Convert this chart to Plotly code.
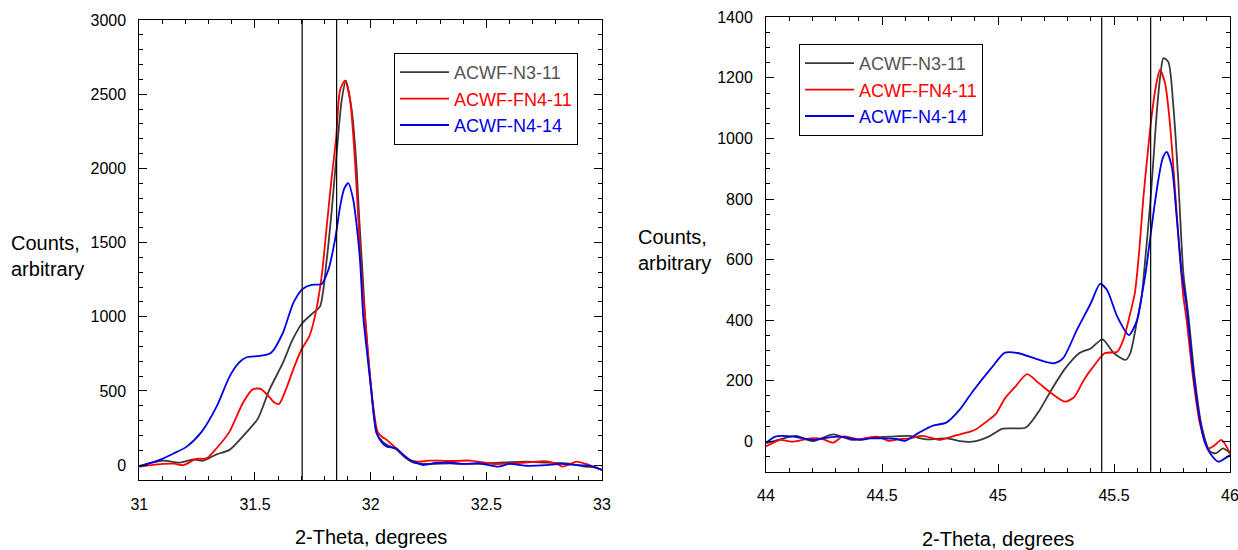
import plotly.graph_objects as go

# ---------------- data: left panel (2-theta 31-33) ----------------
L_n3_x = [31.00, 31.05, 31.104, 31.176, 31.233, 31.276, 31.334, 31.39, 31.447, 31.512, 31.562, 31.62, 31.662,
          31.704, 31.75, 31.781, 31.81, 31.832, 31.853, 31.875, 31.893, 31.918, 31.937, 31.951, 31.966,
          31.976, 32.0, 32.026, 32.05, 32.07, 32.11, 32.15, 32.185, 32.25, 32.34, 32.42, 32.5, 32.58,
          32.67, 32.76, 32.85, 32.93, 32.97, 33.0]
L_n3_y = [-5, 15, 30, 17, 39, 30, 73, 103, 193, 312, 507, 687, 844,
          956, 1024, 1068, 1383, 1720, 2102, 2461, 2591, 2394, 2057, 1652, 1270,
          1001, 560, 215, 160, 137, 108, 50, 17, 8, 13, 8, 12, 18,
          24, 17, 12, -10, -15, -32]

L_fn4_x = [31.00, 31.05, 31.104, 31.15, 31.19, 31.246, 31.29, 31.334, 31.39, 31.447, 31.49, 31.525, 31.56,
           31.585, 31.604, 31.633, 31.67, 31.70, 31.734, 31.759, 31.788, 31.81, 31.832, 31.85, 31.868,
           31.889, 31.911, 31.932, 31.947, 31.961, 31.976, 32.0, 32.03, 32.05, 32.07, 32.11, 32.17, 32.2,
           32.25, 32.3, 32.35, 32.43, 32.48, 32.53, 32.6, 32.67, 32.76, 32.8, 32.83, 32.86, 32.89, 32.93,
           32.97, 33.0]
L_fn4_y = [-10, 0, 8, 10, 0, 42, 46, 114, 226, 417, 511, 514, 462,
           420, 412, 507, 664, 776, 866, 1001, 1270, 1607, 1944, 2191, 2528,
           2591, 2461, 2057, 1652, 1270, 1001, 551, 226, 190, 170, 114, 35, 24,
           31, 30, 28, 31, 20, 8, 12, 17, 26, 12, -10, 5, 24, 8,
           -15, -32]

L_n414_x = [31.00, 31.05, 31.104, 31.15, 31.205, 31.27, 31.334, 31.39, 31.43, 31.464, 31.52, 31.57, 31.62,
            31.665, 31.704, 31.744, 31.788, 31.817, 31.846, 31.868, 31.885, 31.903, 31.925, 31.94, 31.954,
            31.968, 31.985, 32.0, 32.026, 32.05, 32.07, 32.11, 32.14, 32.17, 32.2, 32.228, 32.28, 32.33,
            32.4, 32.47, 32.55, 32.6, 32.67, 32.76, 32.82, 32.9, 32.95, 33.0]
L_n414_y = [-10, 15, 46, 80, 125, 226, 394, 597, 690, 727, 736, 758, 889,
            1091, 1185, 1215, 1221, 1315, 1518, 1742, 1860, 1900, 1787, 1607, 1383,
            1001, 750, 540, 215, 150, 125, 114, 70, 35, 15, 1, 15, 17,
            8, 13, -10, 8, -4, 0, 8, 0, -5, -32]

# ---------------- data: right panel (2-theta 44-46) ----------------
R_n3_x = [44.0, 44.06, 44.13, 44.2, 44.29, 44.37, 44.46, 44.54, 44.62, 44.69, 44.78, 44.83, 44.89, 44.96,
          45.02, 45.12, 45.18, 45.23, 45.29, 45.35, 45.40, 45.45, 45.50, 45.55, 45.57, 45.60, 45.619, 45.637,
          45.655, 45.67, 45.684, 45.70, 45.713, 45.734, 45.756, 45.777, 45.799, 45.82, 45.849, 45.878, 45.914,
          45.94, 45.97, 46.0]
R_n3_y = [-6, 7, 18, 1, 23, 5, 13, 16, 18, 7, 10, 2, -1, 16,
          42, 46, 104, 170, 241, 291, 307, 337, 291, 269, 291, 401, 478, 620,
          775, 930, 1083, 1210, 1265, 1253, 1105, 863, 555, 420, 203, 49, -34,
          -39, -23, -39]

R_fn4_x = [44.00, 44.03, 44.06, 44.12, 44.19, 44.247, 44.29, 44.33, 44.4, 44.48, 44.53, 44.57, 44.62, 44.675,
           44.75, 44.8, 44.88, 44.905, 44.96, 44.99, 45.03, 45.075, 45.125, 45.177, 45.23, 45.29, 45.33,
           45.37, 45.405, 45.46, 45.514, 45.54, 45.57, 45.59, 45.61, 45.626, 45.645, 45.662, 45.68, 45.698,
           45.72, 45.741, 45.763, 45.784, 45.799, 45.813, 45.842, 45.87, 45.906, 45.935, 45.963, 46.0]
R_fn4_y = [-17, -5, 5, -1, 10, 7, -4, 16, 7, 16, 2, 7, 10, 18,
           5, 16, 32, 40, 71, 90, 142, 181, 222, 192, 159, 131, 148,
           203, 241, 291, 296, 335, 423, 490, 640, 800, 950, 1072, 1170, 1226,
           1182, 1050, 830, 610, 478, 400, 203, 60, -23, -12, 5, -39]

R_n414_x = [44.00, 44.04, 44.12, 44.2, 44.26, 44.32, 44.4, 44.45, 44.51, 44.56, 44.6, 44.66, 44.72, 44.777,
            44.834, 44.89, 44.97, 45.03, 45.09, 45.177, 45.24, 45.28, 45.34, 45.40, 45.44, 45.47, 45.514,
            45.564, 45.60, 45.619, 45.637, 45.655, 45.673, 45.691, 45.71, 45.727, 45.749, 45.77, 45.792,
            45.813, 45.842, 45.87, 45.89, 45.914, 45.95, 45.978, 46.0]
R_n414_y = [-5, 16, 16, 5, 12, 16, 5, 10, 10, 8, 2, 29, 52, 62,
            104, 164, 241, 293, 291, 269, 258, 274, 368, 456, 520, 500, 412,
            351, 401, 478, 560, 665, 770, 863, 935, 956, 907, 742, 555,
            445, 225, 71, 0, -39, -67, -56, -45]

series_names = ["ACWF-N3-11", "ACWF-FN4-11", "ACWF-N4-14"]
line_colors = ["#3a3a3a", "#ff0000", "#0000e6"]
text_colors = ["#555555", "#ff0000", "#0000e6"]
left_markers = [31.704, 31.853]
right_markers = [45.447, 45.658]
x_ticks_left = [31, 31.5, 32, 32.5, 33]
x_ticks_right = [44, 44.5, 45, 45.5, 46]

FONT = "Liberation Sans, Arial, sans-serif"
W, H = 1238, 550

fig = go.Figure()
left_data = [(L_n3_x, L_n3_y), (L_fn4_x, L_fn4_y), (L_n414_x, L_n414_y)]
right_data = [(R_n3_x, R_n3_y), (R_fn4_x, R_fn4_y), (R_n414_x, R_n414_y)]

for i, (xs, ys) in enumerate(left_data):
    fig.add_trace(go.Scatter(
        x=xs, y=ys, mode="lines", xaxis="x", yaxis="y",
        line=dict(color=line_colors[i], width=1.8, shape="spline", smoothing=0.7),
        name=f'<span style="color:{text_colors[i]}">{series_names[i]}</span>',
        legend="legend"))
for i, (xs, ys) in enumerate(right_data):
    fig.add_trace(go.Scatter(
        x=xs, y=ys, mode="lines", xaxis="x2", yaxis="y2",
        line=dict(color=line_colors[i], width=1.8, shape="spline", smoothing=0.7),
        name=f'<span style="color:{text_colors[i]}">{series_names[i]}</span>',
        legend="legend2"))

shapes = []
for xv in left_markers:
    shapes.append(dict(type="line", xref="x", yref="y domain", x0=xv, x1=xv, y0=0, y1=1,
                       line=dict(color="black", width=1.2)))
for xv in right_markers:
    shapes.append(dict(type="line", xref="x2", yref="y2 domain", x0=xv, x1=xv, y0=0, y1=1,
                       line=dict(color="black", width=1.2)))

def px_x(p):
    return p / W

def px_y(p):
    return 1 - p / H

axis_common = dict(showline=True, linecolor="black", linewidth=1, mirror="allticks",
                   ticks="inside", ticklen=8, tickcolor="black", showgrid=False, zeroline=False,
                   automargin=False, ticklabeloverflow="allow",
                   tickfont=dict(family=FONT, size=16, color="black"))

fig.update_layout(
    width=W, height=H,
    margin=dict(l=0, r=0, t=0, b=0, autoexpand=False),
    paper_bgcolor="white", plot_bgcolor="white",
    font=dict(family=FONT, color="black"),
    xaxis=dict(domain=[px_x(139.3), px_x(602)], range=[31, 33], tickvals=x_ticks_left,
               ticktext=[f"{v:g}" for v in x_ticks_left], anchor="y",
               minor=dict(dtick=0.1, ticks="inside", ticklen=4, tickcolor="black"),
               ticklabelstandoff=10, **axis_common),
    yaxis=dict(domain=[px_y(480), px_y(20)], range=[-100, 3000], dtick=500, anchor="x",
               minor=dict(dtick=100, ticks="inside", ticklen=4, tickcolor="black"),
               ticklabelstandoff=9, **axis_common),
    xaxis2=dict(domain=[px_x(766), px_x(1230)], range=[44, 46], tickvals=x_ticks_right,
                ticktext=[f"{v:g}" for v in x_ticks_right], anchor="y2",
                minor=dict(dtick=0.1, ticks="inside", ticklen=4, tickcolor="black"),
                ticklabelstandoff=9, **axis_common),
    yaxis2=dict(domain=[px_y(471.7), px_y(17.3)], range=[-100, 1400], dtick=200, anchor="x2",
                minor=dict(dtick=50, ticks="inside", ticklen=4, tickcolor="black"),
                ticklabelstandoff=9, **axis_common),
    shapes=shapes,
    legend=dict(x=px_x(394), y=px_y(53), xanchor="left", yanchor="top",
                bgcolor="white", bordercolor="black", borderwidth=1,
                font=dict(family=FONT, size=18), tracegroupgap=0, itemwidth=49),
    legend2=dict(x=px_x(799), y=px_y(44), xanchor="left", yanchor="top",
                 bgcolor="white", bordercolor="black", borderwidth=1,
                 font=dict(family=FONT, size=18), tracegroupgap=0, itemwidth=49),
    annotations=[
        dict(text="Counts,<br>arbitrary", xref="paper", yref="paper", x=px_x(9), y=px_y(256),
             xanchor="left", yanchor="middle", align="left", showarrow=False,
             font=dict(family=FONT, size=20, color="black")),
        dict(text="Counts,<br>arbitrary", xref="paper", yref="paper", x=px_x(636), y=px_y(250),
             xanchor="left", yanchor="middle", align="left", showarrow=False,
             font=dict(family=FONT, size=20, color="black")),
        dict(text="2-Theta, degrees", xref="paper", yref="paper", x=px_x(370.6), y=px_y(537),
             xanchor="center", yanchor="middle", showarrow=False,
             font=dict(family=FONT, size=20, color="black")),
        dict(text="2-Theta, degrees", xref="paper", yref="paper", x=px_x(998), y=px_y(539),
             xanchor="center", yanchor="middle", showarrow=False,
             font=dict(family=FONT, size=20, color="black")),
    ],
)

fig.write_html("out.html")
